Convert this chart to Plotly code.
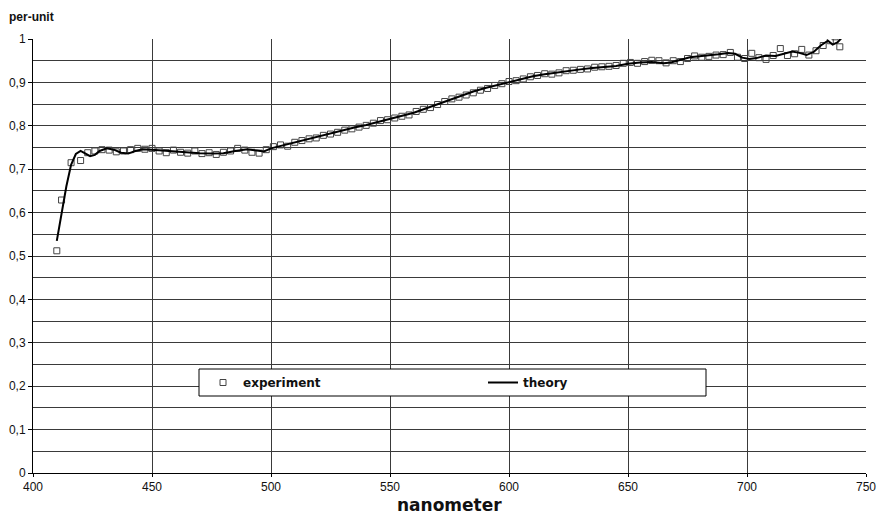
import plotly.graph_objects as go

# Theory curve (nanometer, per-unit)
theory_x = [410, 412, 414, 416, 418, 420, 422, 424, 426, 428, 431, 434, 437, 440, 443, 446, 450,
            455, 460, 465, 470, 475, 480, 485, 490, 494, 497, 500, 505, 510, 515, 520, 525, 530,
            535, 540, 545, 550, 555, 560, 565, 570, 575, 580, 585, 590, 595, 600, 605, 610, 615,
            620, 625, 630, 635, 640, 645, 650, 655, 660, 665, 668, 672, 676, 680, 684, 688, 692,
            695, 698, 701, 704, 708, 712, 716, 719, 722, 725, 728, 731, 734, 736, 738, 740]
theory_y = [0.535, 0.600, 0.660, 0.710, 0.735, 0.742, 0.735, 0.730, 0.733, 0.742, 0.748, 0.745,
            0.738, 0.736, 0.742, 0.746, 0.745, 0.743, 0.740, 0.739, 0.737, 0.736, 0.737, 0.742,
            0.746, 0.743, 0.741, 0.748, 0.755, 0.762, 0.768, 0.775, 0.782, 0.789, 0.796, 0.802,
            0.809, 0.816, 0.823, 0.830, 0.840, 0.850, 0.860, 0.870, 0.879, 0.887, 0.894, 0.901,
            0.908, 0.914, 0.919, 0.923, 0.926, 0.930, 0.933, 0.936, 0.938, 0.943, 0.946, 0.947,
            0.944, 0.946, 0.952, 0.958, 0.960, 0.962, 0.965, 0.968, 0.966, 0.957, 0.954, 0.956,
            0.962, 0.961, 0.966, 0.971, 0.968, 0.963, 0.970, 0.985, 0.996, 0.987, 0.992, 1.004]

# Experimental points
exp_x = [410, 412, 416, 420, 423, 426, 429, 432, 435, 438, 441, 444, 447, 450, 453, 456, 459, 462,
         465, 468, 471, 474, 477, 480, 483, 486, 489, 492, 495, 498, 501, 504, 507, 510, 513, 516,
         519, 522, 525, 528, 531, 534, 537, 540, 543, 546, 549, 552, 555, 558, 561, 564, 567, 570,
         573, 576, 579, 582, 585, 588, 591, 594, 597, 600, 603, 606, 609, 612, 615, 618, 621, 624,
         627, 630, 633, 636, 639, 642, 645, 648, 651, 654, 657, 660, 663, 666, 669, 672, 675, 678,
         681, 684, 687, 690, 693, 696, 699, 702, 705, 708, 711, 714, 717, 720, 723, 726, 729, 732,
         735, 737, 739]
exp_y = [0.512, 0.629, 0.715, 0.720, 0.738, 0.742, 0.745, 0.744, 0.740, 0.742, 0.745, 0.748,
         0.746, 0.748, 0.742, 0.738, 0.744, 0.739, 0.737, 0.742, 0.736, 0.738, 0.734, 0.739,
         0.742, 0.748, 0.744, 0.739, 0.737, 0.745, 0.752, 0.756, 0.753, 0.762, 0.766, 0.770,
         0.772, 0.778, 0.781, 0.785, 0.790, 0.793, 0.797, 0.801, 0.806, 0.812, 0.814, 0.818,
         0.822, 0.825, 0.833, 0.838, 0.842, 0.849, 0.856, 0.862, 0.866, 0.871, 0.876, 0.882,
         0.886, 0.893, 0.897, 0.902, 0.904, 0.908, 0.913, 0.916, 0.920, 0.919, 0.922, 0.927,
         0.928, 0.930, 0.931, 0.935, 0.936, 0.937, 0.939, 0.944, 0.946, 0.944, 0.948, 0.951,
         0.950, 0.945, 0.950, 0.948, 0.955, 0.961, 0.958, 0.960, 0.963, 0.964, 0.969, 0.958,
         0.955, 0.967, 0.957, 0.953, 0.962, 0.978, 0.962, 0.966, 0.976, 0.963, 0.973, 0.985,
         0.996, 1.005, 0.982]

y_tick_vals = [0, 0.1, 0.2, 0.3, 0.4, 0.5, 0.6, 0.7, 0.8, 0.9, 1]
y_tick_text = ["0", "0,1", "0,2", "0,3", "0,4", "0,5", "0,6", "0,7", "0,8", "0,9", "1"]
x_tick_vals = [400, 450, 500, 550, 600, 650, 700, 750]

FONT = "Liberation Sans, Arial, sans-serif"
BOLDFONT = "DejaVu Sans, sans-serif"
PW, PH, L, T = 833, 434, 33, 39


def px(xp):
    return (xp - L) / PW


def py(yp):
    return (T + PH - yp) / PH


fig = go.Figure()
fig.add_trace(go.Scatter(
    x=exp_x, y=exp_y, mode="markers", name="<b>experiment</b>",
    marker=dict(symbol="square-open", size=6, color="#444", line=dict(width=1, color="#444")),
))
fig.add_trace(go.Scatter(
    x=theory_x, y=theory_y, mode="lines", name="<b>theory</b>",
    line=dict(color="black", width=2),
))

grid = "#3a3a3a"
fig.update_layout(
    width=877, height=515,
    margin=dict(l=33, r=11, t=39, b=42),
    paper_bgcolor="white", plot_bgcolor="white",
    font=dict(family=FONT, size=12, color="#111"),
    showlegend=True,
    legend=dict(
        orientation="h", x=px(203), y=py(368), xanchor="left", yanchor="top",
        bgcolor="rgba(0,0,0,0)", borderwidth=0,
        font=dict(family=BOLDFONT, size=12, color="#111"),
        entrywidth=235, entrywidthmode="pixels",
    ),
    shapes=[
        dict(type="rect", xref="paper", yref="paper", x0=px(199), x1=px(706),
             y0=py(396), y1=py(369), fillcolor="white",
             line=dict(color="black", width=1), layer="above"),
    ],
    xaxis=dict(
        range=[400, 750], tickvals=x_tick_vals, showgrid=True, gridcolor=grid, gridwidth=1,
        showline=True, linecolor="black", linewidth=1, ticks="outside", ticklen=3,
        tickcolor="black", zeroline=False, tickfont=dict(size=12, color="#111"),
        automargin=False,
    ),
    yaxis=dict(
        range=[0, 1], tickvals=y_tick_vals, ticktext=y_tick_text, showgrid=True,
        gridcolor=grid, gridwidth=1,
        minor=dict(dtick=0.05, showgrid=True, gridcolor=grid, gridwidth=1, ticks=""),
        showline=True, linecolor="black", linewidth=1, ticks="outside", ticklen=4,
        tickcolor="black", zeroline=False, tickfont=dict(size=12, color="#111"),
        automargin=False,
    ),
    annotations=[
        dict(text="<b>per-unit</b>", xref="paper", yref="paper", x=px(7),
             y=py(17), xanchor="left", yanchor="middle", showarrow=False,
             font=dict(family=FONT, size=12, color="#111")),
        dict(text="<b>nanometer</b>", xref="paper", yref="paper", x=px(449),
             y=py(505), xanchor="center", yanchor="middle", showarrow=False,
             font=dict(family=BOLDFONT, size=17, color="#111")),
    ],
)

fig.write_html("out.html")
